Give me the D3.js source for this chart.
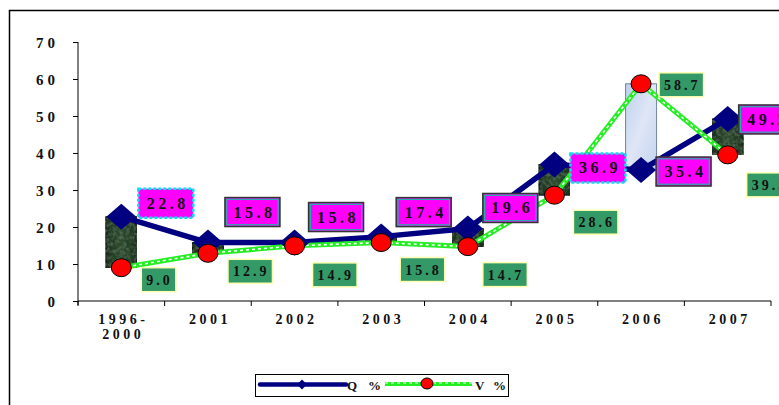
<!DOCTYPE html>
<html>
<head>
<meta charset="utf-8">
<script src="https://cdn.jsdelivr.net/npm/d3@7/dist/d3.min.js"></script>
<style>
  html, body { margin: 0; padding: 0; background: #fff; }
  svg { display: block; }
</style>
</head>
<body>
<svg id="chart" width="779" height="405"></svg>
<script>
// Category labels (first one spans two lines)
const categories = ["1996-2000", "2001", "2002", "2003", "2004", "2005", "2006", "2007"];
const categoryLines = [["1996-", "2000"], ["2001"], ["2002"], ["2003"], ["2004"], ["2005"], ["2006"], ["2007"]];

// Series values (%)
const qValues = [22.8, 15.8, 15.8, 17.4, 19.6, 36.9, 35.4, 49.2];
const vValues = [9.0, 12.9, 14.9, 15.8, 14.7, 28.6, 58.7, 39.5];

// Y axis ticks
const yTicks = [0, 10, 20, 30, 40, 50, 60, 70];

// Hand-placed data-label nudges: [dx, dy] from the point to the label box corner
const qLabelNudge = [[17, -28], [17, -45], [14, -40], [15, -39], [15, -35], [16, -11], [15, -13], [11, -14]];
const vLabelNudge = [[20, 0], [20, 6], [18, 17], [19, 15], [15, 16], [19, 15], [18, -11], [19, 18]];
const qLabelDashed = [true, false, false, false, false, true, false, false];

const svg = d3.select("#chart");
const serif = "'Liberation Serif', 'Times New Roman', serif";

const x = d3.scaleBand().domain(categories).range([78, 771]).padding(0);
const y = d3.scaleLinear().domain([0, 70]).range([301, 42]);
const cx = d => x(d) + x.bandwidth() / 2;

// defs: bar fills
const defs = svg.append("defs");
const gDown = defs.append("linearGradient").attr("id", "downFill").attr("x1", 0).attr("x2", 1).attr("y1", 0).attr("y2", 0);
gDown.append("stop").attr("offset", "0%").attr("stop-color", "#1a301b");
gDown.append("stop").attr("offset", "50%").attr("stop-color", "#2e4d30");
gDown.append("stop").attr("offset", "100%").attr("stop-color", "#1a301b");
const gUp = defs.append("linearGradient").attr("id", "upFill").attr("x1", 0).attr("x2", 1).attr("y1", 0).attr("y2", 1);
gUp.append("stop").attr("offset", "0%").attr("stop-color", "#bcd0ee");
gUp.append("stop").attr("offset", "50%").attr("stop-color", "#dfe6f6");
gUp.append("stop").attr("offset", "100%").attr("stop-color", "#c4d4ef");
const noise = defs.append("filter").attr("id", "mottle").attr("x", 0).attr("y", 0).attr("width", 1).attr("height", 1);
noise.append("feTurbulence").attr("type", "fractalNoise").attr("baseFrequency", 0.3).attr("numOctaves", 2).attr("seed", 3).attr("result", "n");
noise.append("feColorMatrix").attr("in", "n").attr("type", "matrix")
  .attr("values", "0 0 0 0 0.24  0 0 0 0 0.38  0 0 0 0 0.25  0 0 0 0.6 -0.25").attr("result", "c");
noise.append("feComposite").attr("in", "c").attr("in2", "SourceGraphic").attr("operator", "atop");

// outer frame
svg.append("rect").attr("x", 9.5).attr("y", 10.5).attr("width", 820).attr("height", 420)
  .attr("fill", "none").attr("stroke", "#000").attr("stroke-width", 1.5);

// axes
const yAxis = svg.append("g").attr("transform", "translate(78,0)")
  .call(d3.axisLeft(y).tickValues(yTicks).tickSize(5).tickFormat(d3.format("d")));
yAxis.select(".domain").attr("d", `M0,${y(70)}V${y(0) + 4}`).attr("stroke", "#000");
yAxis.selectAll(".tick line").attr("stroke", "#000");
yAxis.selectAll(".tick text").attr("x", -19).attr("font-family", serif).attr("font-weight", "bold")
  .attr("font-size", 15).attr("letter-spacing", 4).attr("fill", "#111").attr("dy", "0.36em");

const xAxis = svg.append("g").attr("transform", `translate(0,${y(0)})`)
  .call(d3.axisBottom(x).tickSize(0).tickFormat(""));
xAxis.select(".domain").attr("d", "M78,0H771").attr("stroke", "#000");
xAxis.selectAll(".tick").remove();
const bounds = categories.map(c => x(c)).concat([x.range()[1]]);
xAxis.selectAll("line.sep").data(bounds).join("line")
  .attr("x1", d => d).attr("x2", d => d).attr("y1", 0).attr("y2", 5).attr("stroke", "#000");

const xl = svg.append("g");
categories.forEach((c, i) => {
  const t = xl.append("text").attr("x", cx(c) + 2).attr("y", 324)
    .attr("text-anchor", "middle").attr("font-family", serif).attr("font-weight", "bold")
    .attr("font-size", 14).attr("letter-spacing", 3.5).attr("fill", "#111");
  categoryLines[i].forEach((ln, k) => t.append("tspan").attr("x", cx(c) + 2).attr("dy", k ? 15 : 0).text(ln));
});

// up/down bars between the two series
const barW = 31;
svg.append("g").selectAll("rect").data(categories).join("rect")
  .attr("x", d => cx(d) - barW / 2)
  .attr("y", (d, i) => y(Math.max(qValues[i], vValues[i])))
  .attr("width", barW)
  .attr("height", (d, i) => Math.abs(y(qValues[i]) - y(vValues[i])))
  .attr("fill", (d, i) => vValues[i] > qValues[i] ? "url(#upFill)" : "url(#downFill)")
  .attr("filter", (d, i) => vValues[i] > qValues[i] ? null : "url(#mottle)")
  .attr("stroke", (d, i) => vValues[i] > qValues[i] ? "#7585a0" : "#0c140c")
  .attr("stroke-width", 1);

// Q line
const lineQ = d3.line().x((d, i) => cx(categories[i])).y(d => y(d));
svg.append("path").datum(qValues).attr("d", lineQ)
  .attr("fill", "none").attr("stroke", "#000080").attr("stroke-width", 5.5).attr("stroke-linejoin", "round");

// V line: green with a white stitched core
svg.append("path").datum(vValues).attr("d", lineQ)
  .attr("fill", "none").attr("stroke", "#22ee22").attr("stroke-width", 5);
svg.append("path").datum(vValues).attr("d", lineQ)
  .attr("fill", "none").attr("stroke", "#fff").attr("stroke-width", 1.6).attr("stroke-dasharray", "3 3");

// markers
const diamond = (px, py, hw, hh) => `M${px},${py - hh}L${px + hw},${py}L${px},${py + hh}L${px - hw},${py}Z`;
svg.append("g").selectAll("path").data(qValues).join("path")
  .attr("d", (d, i) => diamond(cx(categories[i]), y(d), 15, 13))
  .attr("fill", "#000080");
svg.append("g").selectAll("ellipse").data(vValues).join("ellipse")
  .attr("cx", (d, i) => cx(categories[i])).attr("cy", d => y(d))
  .attr("rx", 10).attr("ry", 9).attr("fill", "#ff0000").attr("stroke", "#000").attr("stroke-width", 1);

// Q data labels
const qg = svg.append("g");
qValues.forEach((v, i) => {
  const bx = cx(categories[i]) + qLabelNudge[i][0];
  const by = y(v) + qLabelNudge[i][1];
  const w = 55, h = 29;
  if (qLabelDashed[i]) {
    qg.append("rect").attr("x", bx).attr("y", by).attr("width", w).attr("height", h)
      .attr("fill", "#ff00ff").attr("stroke", "#00e5ee").attr("stroke-width", 2.5).attr("stroke-dasharray", "3 2");
  } else {
    qg.append("rect").attr("x", bx).attr("y", by).attr("width", w).attr("height", h)
      .attr("fill", "#ff00ff").attr("stroke", "#333").attr("stroke-width", 1.5);
    qg.append("rect").attr("x", bx + 1.8).attr("y", by + 1.8).attr("width", w - 3.6).attr("height", h - 3.6)
      .attr("fill", "none").attr("stroke", "#20b2aa").attr("stroke-width", 1.2);
  }
  qg.append("text").attr("x", bx + w / 2 + 2).attr("y", by + h / 2 + 5.5)
    .attr("text-anchor", "middle").attr("font-family", serif).attr("font-weight", "bold")
    .attr("font-size", 16).attr("letter-spacing", 3.5).attr("fill", "#111").text(v.toFixed(1));
});

// V data labels
const vg = svg.append("g");
vValues.forEach((v, i) => {
  const bx = cx(categories[i]) + vLabelNudge[i][0];
  const by = y(v) + vLabelNudge[i][1];
  const t = vg.append("text").attr("font-family", serif).attr("font-weight", "bold")
    .attr("font-size", 14).attr("letter-spacing", 3).attr("fill", "#111").text(v.toFixed(1));
  const tw = t.node().getComputedTextLength();
  const w = tw + 8, h = 24;
  vg.insert("rect", "text").attr("x", bx).attr("y", by).attr("width", w).attr("height", h)
    .attr("fill", "#339966").attr("stroke", "#ffffb0").attr("stroke-width", 1.5);
  t.attr("x", bx + 5).attr("y", by + h / 2 + 5);
  t.raise();
});

// legend
const lg = svg.append("g");
lg.append("rect").attr("x", 255.5).attr("y", 374.5).attr("width", 253).attr("height", 22)
  .attr("fill", "#fff").attr("stroke", "#000").attr("stroke-width", 1);
lg.append("line").attr("x1", 260).attr("x2", 346).attr("y1", 384.5).attr("y2", 384.5)
  .attr("stroke", "#000080").attr("stroke-width", 4.5).attr("stroke-linecap", "round");
lg.append("path").attr("d", diamond(302, 384.5, 5, 5)).attr("fill", "#000080");
lg.append("text").attr("x", 347).attr("y", 390).attr("font-family", serif).attr("font-weight", "bold")
  .attr("font-size", 13).attr("fill", "#111").text("Q");
lg.append("text").attr("x", 368).attr("y", 390).attr("font-family", serif).attr("font-weight", "bold")
  .attr("font-size", 13).attr("fill", "#111").text("%");
lg.append("line").attr("x1", 385).attr("x2", 472).attr("y1", 384).attr("y2", 384)
  .attr("stroke", "#22ee22").attr("stroke-width", 4);
lg.append("line").attr("x1", 385).attr("x2", 472).attr("y1", 383).attr("y2", 383)
  .attr("stroke", "#fff").attr("stroke-width", 1.2).attr("stroke-dasharray", "3 3");
lg.append("ellipse").attr("cx", 427).attr("cy", 383.5).attr("rx", 6).attr("ry", 5.5)
  .attr("fill", "#ff0000").attr("stroke", "#000").attr("stroke-width", 1);
lg.append("text").attr("x", 475).attr("y", 390).attr("font-family", serif).attr("font-weight", "bold")
  .attr("font-size", 13).attr("fill", "#111").text("V");
lg.append("text").attr("x", 493).attr("y", 390).attr("font-family", serif).attr("font-weight", "bold")
  .attr("font-size", 13).attr("fill", "#111").text("%");
</script>
</body>
</html>
